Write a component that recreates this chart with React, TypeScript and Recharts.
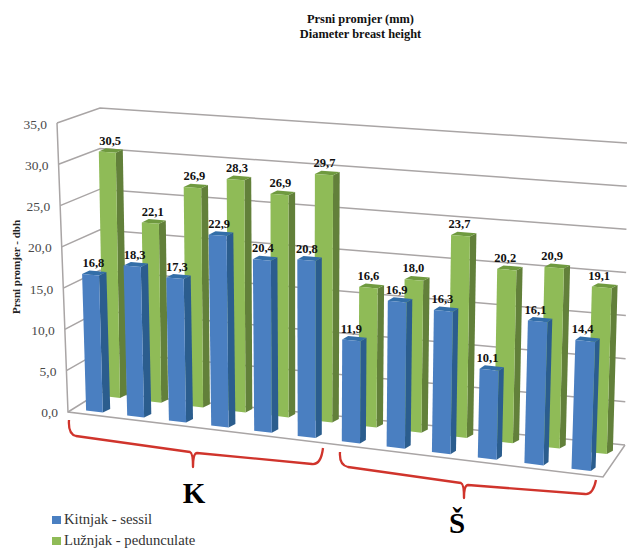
import { Bar, BarChart, CartesianGrid, LabelList, Legend, XAxis, YAxis } from "recharts";

const categories = ["K1", "K2", "K3", "K4", "K5", "K6", "Š1", "Š2", "Š3", "Š4", "Š5", "Š6"];
const sessile = [16.8, 18.3, 17.3, 22.9, 20.4, 20.8, 11.9, 16.9, 16.3, 10.1, 16.1, 14.4];
const pedunculate = [30.5, 22.1, 26.9, 28.3, 26.9, 29.7, 16.6, 18.0, 23.7, 20.2, 20.9, 19.1];
const yTicks = [0, 5, 10, 15, 20, 25, 30, 35];

const data = categories.map((name, i) => ({ name, sessile: sessile[i], pedunculate: pedunculate[i] }));

const SERIF = "'Liberation Serif', serif";
const W = 627;
const H = 548;
// the flat plot the library lays out; everything is then projected to the 3D look
const MARGIN = { top: 40, right: 27, bottom: 48, left: 39 };
const Y_AXIS_WIDTH = 1;
const PL = MARGIN.left + Y_AXIS_WIDTH;
const PW = W - PL - MARGIN.right;
const PH = H - MARGIN.top - MARGIN.bottom;
const PB = MARGIN.top + PH;
const VMAX = 35;
const BAR_SIZE = Math.round((PW / 12) * 0.4);
const GRID = "#a9a5a5";

type P = [number, number];
type Plane = { bl: P; br: P; tl: P; tr: P; dxL: number; dxR: number; dy: number };

const BLUE_PLANE: Plane = { bl: [73.9, 409], br: [604.9, 472.8], tl: [65, 125.5], tr: [615.6, 157.8], dxL: 7.5, dxR: 4.5, dy: -3.5 };
const GREEN_PLANE: Plane = { bl: [91.2, 394.6], br: [620.8, 455.7], tl: [85.6, 114.6], tr: [629.8, 151.2], dxL: 7, dxR: 6, dy: -3.3 };

// walls of the chart box
const FRONT_LEFT = { base: [68, 412] as P, top: [57, 123] as P };
const BACK_LEFT = { base: [100, 392] as P, top: [100, 108] as P };
const BACK_RIGHT = { base: [625, 445] as P, top: [627, 143] as P };
const FRONT_RIGHT: P = [603, 477];

const lerp = (a: number, b: number, t: number) => a + (b - a) * t;
const lerpP = (a: P, b: P, t: number): P => [lerp(a[0], b[0], t), lerp(a[1], b[1], t)];
const warp = (u: number) => 0.918 * u + 0.082 * u * u; // perspective along the category axis
const flatU = (px: number) => (px - PL) / PW;
const flatT = (py: number) => (PB - py) / PH;

function project(plane: Plane, px: number, py: number): P {
  const w = warp(flatU(px));
  return lerpP(lerpP(plane.bl, plane.br, w), lerpP(plane.tl, plane.tr, w), flatT(py));
}

const poly = (pts: P[]) => "M" + pts.map((p) => `${p[0].toFixed(1)},${p[1].toFixed(1)}`).join("L") + "Z";

function Bar3D({ x, y, width, height, plane, front, side, top }: any) {
  const tl = project(plane, x, y);
  const tr = project(plane, x + width, y);
  const bl = project(plane, x, y + height);
  const br = project(plane, x + width, y + height);
  const dx = lerp(plane.dxL, plane.dxR, warp(flatU(x)));
  const off = (p: P): P => [p[0] + dx, p[1] + plane.dy];
  return (
    <g>
      <path d={poly([tr, off(tr), off(br), br])} fill={side} />
      <path d={poly([tl, off(tl), off(tr), tr])} fill={top} />
      <path d={poly([tl, tr, br, bl])} fill={front} />
    </g>
  );
}

function valueLabel(plane: Plane) {
  return (props: any) => {
    const box = props.viewBox ?? props;
    const { x, y, width } = box;
    const p = project(plane, x + width / 2, y);
    const shift = 3 - 6 * warp(flatU(x));
    return (
      <text x={p[0] + shift} y={p[1] - 7.5} textAnchor="middle" fontFamily={SERIF} fontWeight="bold" fontSize={12.5} fill="#111">
        {Number(props.value).toFixed(1).replace(".", ",")}
      </text>
    );
  };
}

function GridLine({ y1 }: any) {
  const t = flatT(y1);
  const a = lerpP(FRONT_LEFT.base, FRONT_LEFT.top, t);
  const b = lerpP(BACK_LEFT.base, BACK_LEFT.top, t);
  const c = lerpP(BACK_RIGHT.base, BACK_RIGHT.top, t);
  return <path d={`M${a[0]},${a[1]}L${b[0]},${b[1]}L${c[0]},${c[1]}`} fill="none" stroke={GRID} strokeWidth={1.5} />;
}

function YTick({ y, payload }: any) {
  const t = flatT(y);
  const p = lerpP(FRONT_LEFT.base, FRONT_LEFT.top, t);
  return (
    <text x={p[0] - 10} y={p[1] + 5 + t} textAnchor="end" fontFamily={SERIF} fontSize={13.5} fill="#4a4a4a">
      {Number(payload.value).toFixed(1).replace(".", ",")}
    </text>
  );
}

// the library sorts the rows by name, which already gives Kitnjak first
function LegendBox({ payload }: any) {
  return (
    <div style={{ fontFamily: SERIF, fontSize: 14.7, color: "#333", lineHeight: "21px", whiteSpace: "nowrap" }}>
      {(payload ?? []).map((e: any) => (
        <div key={e.value} style={{ display: "flex", alignItems: "center" }}>
          <span style={{ width: 9, height: 8, background: e.color, marginRight: 3 }} />
          {e.value}
        </div>
      ))}
    </div>
  );
}

function Annotations() {
  const red = { fill: "none", stroke: "#d0342c", strokeWidth: 2.3, strokeLinejoin: "round" as const };
  return (
    <g>
      <path d="M69,420 Q68,434 76,436 L190,452 Q193,453 193,467 Q193,453 197,453 L312,464 Q321,465 323,448" {...red} />
      <path d="M340,452 Q339,465 348,467 L461,483 Q464,484 464,498 Q464,485 468,485 L585,494 Q593,495 596,480" {...red} />
      <text x={360.5} y={23} textAnchor="middle" fontFamily={SERIF} fontWeight="bold" fontSize={12.4} fill="#111">Prsni promjer (mm)</text>
      <text x={360.5} y={38} textAnchor="middle" fontFamily={SERIF} fontWeight="bold" fontSize={12.4} fill="#111">Diameter breast height</text>
      <text x={0} y={0} transform="translate(20,267) rotate(-90)" textAnchor="middle" fontFamily={SERIF} fontWeight="bold" fontSize={11} fill="#222">Prsni promjer - dbh</text>
      <text x={194} y={503} textAnchor="middle" fontFamily={SERIF} fontWeight="bold" fontSize={29} fill="#000">K</text>
      <text x={457} y={533} textAnchor="middle" fontFamily={SERIF} fontWeight="bold" fontSize={29} fill="#000">Š</text>
    </g>
  );
}

export default function App() {
  return (
    <div style={{ position: "absolute", left: 0, top: 0, background: "#fff" }}>
      <BarChart width={W} height={H} data={data} margin={MARGIN} barSize={BAR_SIZE} barGap={-BAR_SIZE}>
        <CartesianGrid vertical={false} horizontal={(p: any) => <GridLine key={p.key} {...p} />} />
        <XAxis dataKey="name" hide />
        <YAxis domain={[0, VMAX]} ticks={yTicks} width={Y_AXIS_WIDTH} axisLine={false} tickLine={false} tick={(p: any) => <YTick {...p} />} interval={0} />
        <Annotations />
        {/* floor front and left edges */}
        <g>
          <path
            d={`M${FRONT_LEFT.top}L${FRONT_LEFT.base}L${FRONT_RIGHT}L${BACK_RIGHT.base}`}
            fill="none"
            stroke={GRID}
            strokeWidth={1.5}
          />
        </g>
        <Bar
          dataKey="pedunculate"
          name="Lužnjak - pedunculate"
          fill="#8fbb57"
          isAnimationActive={false}
          shape={(p: any) => <Bar3D {...p} plane={GREEN_PLANE} front="#8fbb57" side="#62803a" top="#6f9a3f" />}
        >
          <LabelList dataKey="pedunculate" content={valueLabel(GREEN_PLANE)} />
        </Bar>
        <Bar
          dataKey="sessile"
          name="Kitnjak - sessil"
          fill="#4a7fc1"
          isAnimationActive={false}
          shape={(p: any) => <Bar3D {...p} plane={BLUE_PLANE} front="#4a7fc1" side="#2b5d8e" top="#336ea8" />}
        >
          <LabelList dataKey="sessile" content={valueLabel(BLUE_PLANE)} />
        </Bar>
        <Legend
          layout="vertical"
          align="center"
          verticalAlign="middle"
          wrapperStyle={{ left: 52, top: 509, width: 200 }}
          content={<LegendBox />}
        />
      </BarChart>
    </div>
  );
}
